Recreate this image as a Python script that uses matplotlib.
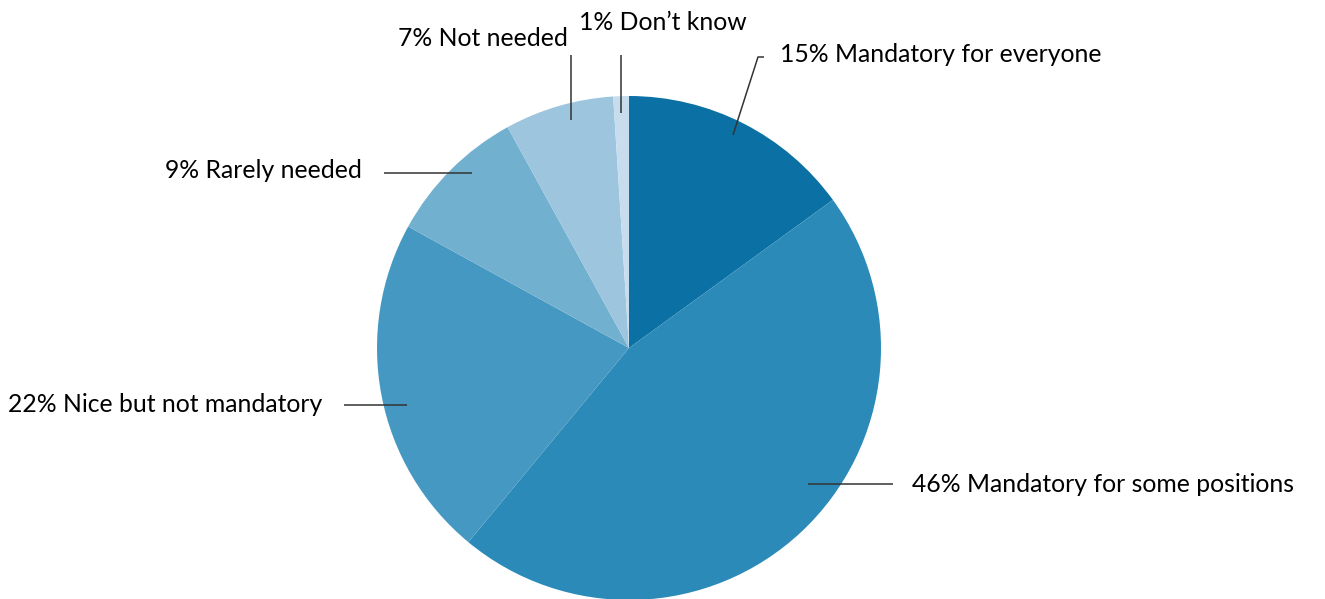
import matplotlib
matplotlib.use("Agg")
import matplotlib.pyplot as plt

# survey answers, clockwise from 12 o'clock
labels = ["Mandatory for everyone", "Mandatory for some positions",
          "Nice but not mandatory", "Rarely needed", "Not needed", "Don\u2019t know"]
shares = [15, 46, 22, 9, 7, 1]
colors = ["#0b70a4", "#2b8ab8", "#4598c1", "#72b0d0", "#9dc6de", "#c7dded"]

plt.rcParams["font.family"] = ["Lato", "DejaVu Sans"]

W, H = 1325, 599
fig = plt.figure(figsize=(W / 100, H / 100), dpi=100)
ax = fig.add_axes([0, 0, 1, 1])

cx, cy, R = 629, H - 348, 252
ax.pie(shares, colors=colors, startangle=90, counterclock=False,
       center=(cx, cy), radius=R, wedgeprops=dict(linewidth=0), frame=True)
ax.set_xlim(0, W)
ax.set_ylim(0, H)
ax.axis("off")

fs = 17.8
lc = "#333333"

# leader lines (pixel coords from top-left) and label anchors
leaders = [
    [(733, 135), (758, 57), (764, 57)],
    [(808, 484), (893, 484)],
    [(407, 405), (344, 405)],
    [(472, 173), (384, 173)],
    [(571, 120), (571, 55)],
    [(621, 113), (621, 55)],
]
texts = [
    (780, 55, "left", "center"),
    (912, 484, "left", "center"),
    (322, 405, "right", "center"),
    (362, 170, "right", "center"),
    (568, 38, "right", "center"),
    (663, 22, "center", "center"),
]

for lab, val, pts, (tx, ty, ha, va) in zip(labels, shares, leaders, texts):
    xs = [p[0] for p in pts]
    ys = [H - p[1] for p in pts]
    ax.plot(xs, ys, color=lc, lw=1.1, solid_capstyle="butt")
    ax.text(tx, H - ty, f"{val}% {lab}", ha=ha, va=va, fontsize=fs, color="black")

fig.savefig("out.png", dpi=100)
